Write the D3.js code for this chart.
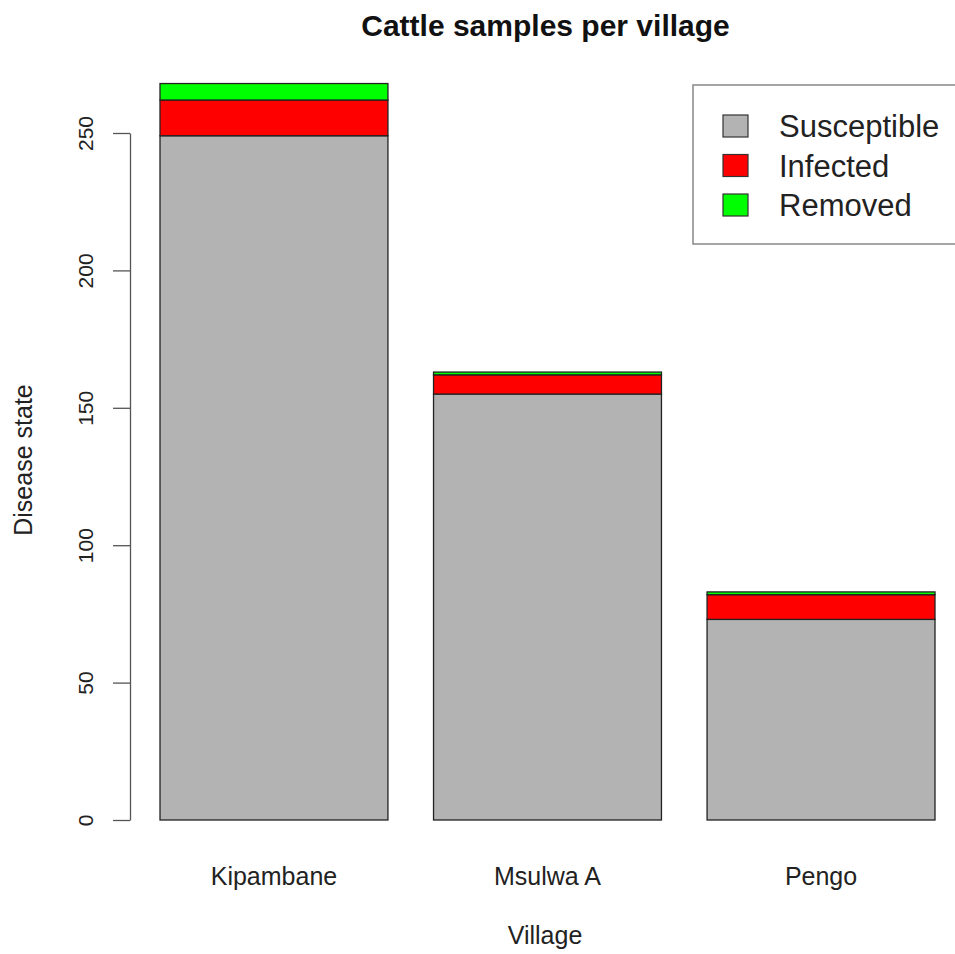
<!DOCTYPE html>
<html>
<head>
<meta charset="utf-8">
<script src="https://cdn.jsdelivr.net/npm/d3@7"></script>
<style>
  html, body { margin: 0; padding: 0; background: #fff; }
  svg { display: block; font-family: "Liberation Sans", Arial, Helvetica, sans-serif; }
</style>
</head>
<body>
<svg id="chart" width="955" height="954"></svg>
<script>
// Data
const villages = ["Kipambane", "Msulwa A", "Pengo"];
const states = ["Susceptible", "Infected", "Removed"];
const susceptible = [249, 155, 73];
const infected = [13, 7, 9];
const removed = [6, 1, 1];
const yTicks = [0, 50, 100, 150, 200, 250];
const stateColors = ["#b3b3b3", "#ff0000", "#00ff00"];

const svg = d3.select("#chart");

const rows = villages.map((v, i) => ({
  village: v,
  Susceptible: susceptible[i],
  Infected: infected[i],
  Removed: removed[i]
}));
const stacked = d3.stack().keys(states)(rows);

const x = d3.scaleBand().domain(villages).range([160, 935]).paddingInner(0.2 / 1.2).paddingOuter(0);
const y = d3.scaleLinear().domain([0, 250]).range([820, 133]);
const color = d3.scaleOrdinal().domain(states).range(stateColors);

// Bars
svg.append("g").selectAll("g").data(stacked).join("g")
  .attr("fill", d => color(d.key))
  .selectAll("rect").data(d => d).join("rect")
  .attr("x", d => x(d.data.village))
  .attr("width", x.bandwidth())
  .attr("y", d => y(d[1]))
  .attr("height", d => y(d[0]) - y(d[1]))
  .attr("stroke", "#222")
  .attr("stroke-width", 1.3);

// Y axis
const yAxis = d3.axisLeft(y).tickValues(yTicks).tickSize(17).tickPadding(20).tickSizeOuter(0);
const gy = svg.append("g").attr("transform", "translate(130,0)").call(yAxis);
gy.select(".domain").attr("stroke", "#555").attr("stroke-width", 1.3);
gy.selectAll(".tick line").attr("stroke", "#555").attr("stroke-width", 1.3);
gy.selectAll(".tick text")
  .attr("font-size", 21)
  .attr("fill", "#222")
  .attr("text-anchor", "middle")
  .attr("dy", null)
  .attr("x", null)
  .attr("transform", "translate(-37,0) rotate(-90)")
  .attr("y", 0);

// Category labels
svg.append("g").selectAll("text").data(villages).join("text")
  .attr("x", d => x(d) + x.bandwidth() / 2)
  .attr("y", 885)
  .attr("text-anchor", "middle")
  .attr("font-size", 25)
  .attr("fill", "#222")
  .text(d => d);

// Title
svg.append("text")
  .attr("x", 545.5).attr("y", 36)
  .attr("text-anchor", "middle")
  .attr("font-size", 30).attr("font-weight", "bold")
  .attr("fill", "#111")
  .text("Cattle samples per village");

// Axis titles
svg.append("text")
  .attr("x", 545).attr("y", 944)
  .attr("text-anchor", "middle")
  .attr("font-size", 25).attr("fill", "#222")
  .text("Village");
svg.append("text")
  .attr("transform", "translate(32,460) rotate(-90)")
  .attr("text-anchor", "middle")
  .attr("font-size", 25).attr("fill", "#222")
  .text("Disease state");

// Legend
const lg = svg.append("g");
lg.append("rect")
  .attr("x", 693).attr("y", 85).attr("width", 280).attr("height", 159)
  .attr("fill", "#fff").attr("stroke", "#888").attr("stroke-width", 1.5);
const items = lg.selectAll("g.item").data(states).join("g")
  .attr("transform", (d, i) => `translate(0,${126 + i * 39.5})`);
items.append("rect")
  .attr("x", 723).attr("y", -11).attr("width", 25).attr("height", 22)
  .attr("fill", d => color(d)).attr("stroke", "#333").attr("stroke-width", 1.2);
items.append("text")
  .attr("x", 779).attr("y", 11)
  .attr("font-size", 31).attr("fill", "#222")
  .text(d => d);
</script>
</body>
</html>
